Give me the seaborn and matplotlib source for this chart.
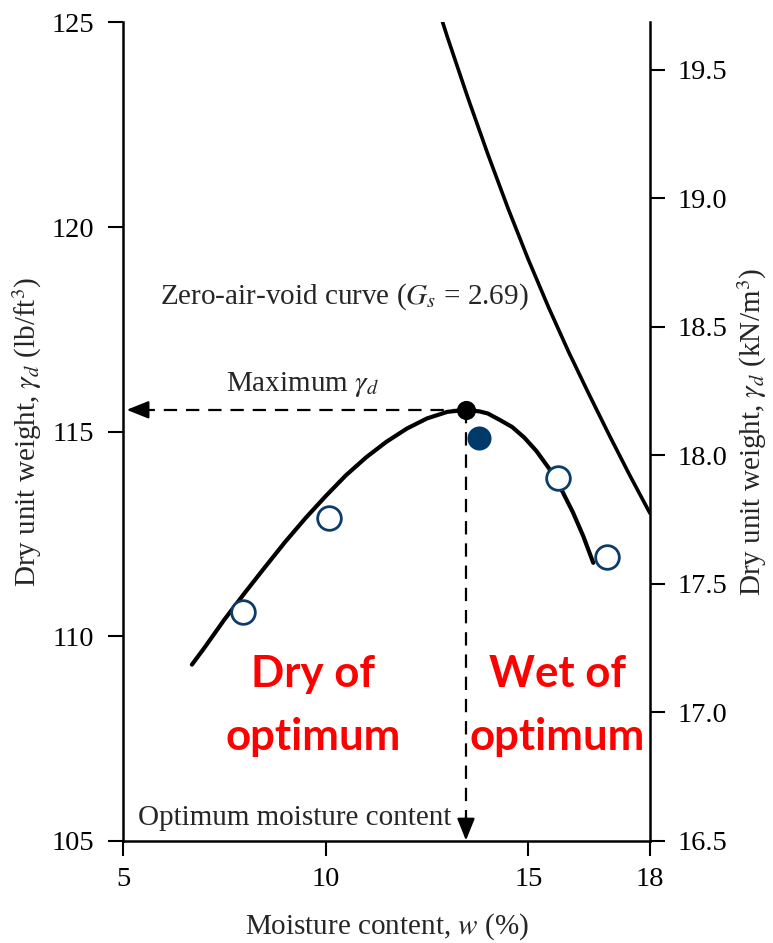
import matplotlib
matplotlib.use("Agg")
import matplotlib.pyplot as plt
import seaborn as sns
import pandas as pd

# Compaction test results (moisture content %, dry unit weight lb/ft^3)
test_w = [7.96, 10.08, 15.72, 16.95]
test_gd = [110.59, 112.89, 113.87, 111.94]
extra_w = [13.78]
extra_gd = [114.85]

# Compaction curve drawn through the tests
curve_w = [6.7, 7.0, 7.5, 8.0, 8.5, 9.0, 9.5, 10.0, 10.5, 11.0, 11.5, 12.0, 12.5,
           13.0, 13.46, 13.8, 14.0, 14.3, 14.6, 14.9, 15.2, 15.5, 15.8, 16.1,
           16.35, 16.6]
curve_gd = [109.30, 109.70, 110.40, 111.05, 111.68, 112.30, 112.88, 113.42,
            113.93, 114.37, 114.75, 115.07, 115.32, 115.48, 115.53, 115.49,
            115.44, 115.28, 115.11, 114.85, 114.52, 114.11, 113.61, 113.02,
            112.45, 111.79]

# Zero-air-void curve, Gs = 2.69
zav_w = [12.8, 13.0, 13.5, 14.0, 14.5, 15.0, 15.5, 16.0, 16.5, 17.0, 17.5, 18.0]
zav_gd = [125.27, 124.65, 123.18, 121.78, 120.45, 119.20, 118.03, 116.93,
          115.90, 114.90, 113.93, 113.00]

# Maximum dry unit weight at optimum moisture content
opt_w = 13.46
max_gd = 115.53

x_ticks = [5, 10, 15, 18]
y_ticks = [105, 110, 115, 120, 125]
kn_ticks = [16.5, 17.0, 17.5, 18.0, 18.5, 19.0, 19.5]

sns.set_theme(style="ticks")
plt.rcParams["font.serif"] = ["Liberation Serif", "DejaVu Serif"]
plt.rcParams["font.family"] = ["serif"]
plt.rcParams["mathtext.fontset"] = "stix"

fig = plt.figure(figsize=(7.73, 9.43), dpi=100)
ax = fig.add_axes([0.1591, 0.10869, 0.6818, 0.86745])

curve_df = pd.DataFrame({"w": curve_w, "gd": curve_gd})
zav_df = pd.DataFrame({"w": zav_w, "gd": zav_gd})
sns.lineplot(data=curve_df, x="w", y="gd", sort=False, estimator=None,
             color="black", lw=3.0, ax=ax)
sns.lineplot(data=zav_df, x="w", y="gd", sort=False, estimator=None,
             color="black", lw=2.6, ax=ax)

sns.scatterplot(x=test_w, y=test_gd, s=290, facecolor="white",
                edgecolor="#0b3c6b", linewidth=2.0, zorder=5, ax=ax)
sns.scatterplot(x=extra_w, y=extra_gd, s=300, color="#003a6b",
                edgecolor="#003a6b", linewidth=0, zorder=5, ax=ax)
sns.scatterplot(x=[opt_w], y=[max_gd], s=190, color="black",
                edgecolor="black", linewidth=0, zorder=6, ax=ax)

# Guide lines from the peak to both axes
dash = dict(color="black", lw=1.6, linestyle=(0, (6, 4)))
ax.plot([opt_w, 5.35], [max_gd, max_gd], **dash)
ax.plot([opt_w, opt_w], [max_gd, 105.45], **dash)
head = dict(arrowstyle="-|>,head_length=0.75,head_width=0.3", color="black",
            lw=1.6, mutation_scale=18, shrinkA=0, shrinkB=0)
ax.annotate("", xy=(5.09, max_gd), xytext=(5.5, max_gd), arrowprops=head)
ax.annotate("", xy=(opt_w, 105.0), xytext=(opt_w, 105.6), arrowprops=head)

ax.text(5.91, 118.29, "Zero-air-void curve ($G_s$ = 2.69)", fontsize=21,
        ha="left", va="center")
ax.text(7.55, 116.14, r"Maximum $\gamma_d$", fontsize=21, ha="left", va="center")
ax.text(5.37, 105.55, "Optimum moisture content", fontsize=21, ha="left",
        va="center")

red = dict(color="#ff0000", fontsize=31.5, fontweight="bold", family="Lato",
           ha="center", va="baseline")
ax.text(9.69, 108.75, "Dry of", **red)
ax.text(9.69, 107.22, "optimum", **red)
ax.text(15.71, 108.75, "Wet of", **red)
ax.text(15.71, 107.22, "optimum", **red)

ax.set_xlim(5, 18)
ax.set_ylim(105, 125)
ax.set_xticks(x_ticks)
ax.set_xticklabels([str(v) for v in x_ticks])
ax.set_yticks(y_ticks)
ax.set_yticklabels([str(v) for v in y_ticks])
ax.set_xlabel("Moisture content, $w$ (%)", fontsize=21, labelpad=14)
ax.set_ylabel(r"Dry unit weight, $\gamma_d$ (lb/ft$^3$)", fontsize=21, labelpad=5)
ax.tick_params(axis="both", direction="out", length=11, width=1.5,
               labelsize=20.5, labelfontfamily="Liberation Serif",
               color="black", labelcolor="black")
ax.tick_params(axis="x", pad=8)
ax.tick_params(axis="y", pad=10)
ax.spines["top"].set_visible(False)
ax.spines["right"].set_visible(False)
for side in ("left", "bottom"):
    ax.spines[side].set_linewidth(1.8)
    ax.spines[side].set_color("black")

ax2 = ax.twinx()
ax2.set_ylim(16.5, 19.684)
ax2.set_yticks(kn_ticks)
ax2.set_yticklabels([f"{v:.1f}" for v in kn_ticks])
ax2.set_ylabel(r"Dry unit weight, $\gamma_d$ (kN/m$^3$)", fontsize=21, labelpad=6)
ax2.tick_params(axis="y", direction="out", length=11, width=1.5, labelsize=20.5,
                labelfontfamily="Liberation Serif",
                pad=9, color="black", labelcolor="black")
for side in ("top", "left", "bottom"):
    ax2.spines[side].set_visible(False)
ax2.spines["right"].set_linewidth(1.8)
ax2.spines["right"].set_color("black")

fig.savefig("out.png", dpi=100, facecolor="white")
